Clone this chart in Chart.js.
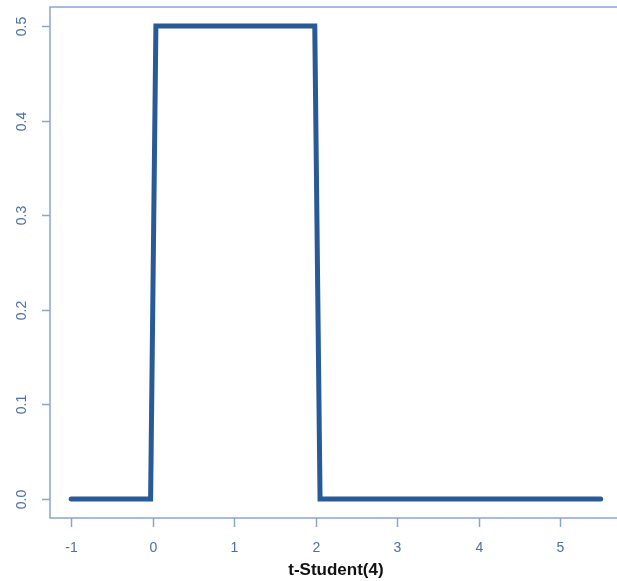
<!DOCTYPE html>
<html>
<head>
<meta charset="utf-8">
<script src="https://cdn.jsdelivr.net/npm/chart.js@4/dist/chart.umd.min.js"></script>
<style>
  html, body { margin: 0; padding: 0; background: #fff; overflow: hidden; }
  #wrap { width: 617px; height: 581px; position: relative; }
</style>
</head>
<body>
<div id="wrap"><canvas id="chart"></canvas></div>
<script>
// corner points of the density curve
var xValues = [-1, -0.025, 0.04, 1.99, 2.055, 5.5];
var yValues = [0, 0, 0.5, 0.5, 0, 0];

var xTicks = [-1, 0, 1, 2, 3, 4, 5];
var yTicks = [0, 0.1, 0.2, 0.3, 0.4, 0.5];
var xTitle = 't-Student(4)';

const LINE_COLOR = '#285a98';
const AXIS_COLOR = '#8aa6cc';
const LABEL_COLOR = '#4a70a6';

var points = xValues.map(function (x, i) { return {x: x, y: yValues[i]}; });

// R style box, ticks and labels, placed with the chart's own scales
var rAxes = {
	id: 'rAxes',
	afterDraw: function (chart) {
		var ctx = chart.ctx;
		var area = chart.chartArea;
		var xs = chart.scales.x;
		var ys = chart.scales.y;
		ctx.save();
		ctx.strokeStyle = AXIS_COLOR;
		ctx.lineWidth = 1.5;
		ctx.beginPath();
		ctx.moveTo(chart.width + 10, area.top);
		ctx.lineTo(area.left, area.top);
		ctx.lineTo(area.left, area.bottom);
		ctx.lineTo(chart.width + 10, area.bottom);
		ctx.stroke();

		ctx.fillStyle = LABEL_COLOR;
		ctx.font = '14px "Liberation Sans", Arial, sans-serif';
		ctx.textAlign = 'center';
		ctx.textBaseline = 'middle';
		xTicks.forEach(function (v) {
			var px = Math.round(xs.getPixelForValue(v)) + 0.5;
			ctx.beginPath();
			ctx.moveTo(px, area.bottom);
			ctx.lineTo(px, area.bottom + 9);
			ctx.stroke();
			ctx.fillText(String(v), px, area.bottom + 30);
		});
		yTicks.forEach(function (v) {
			var py = Math.round(ys.getPixelForValue(v)) + 0.5;
			ctx.beginPath();
			ctx.moveTo(area.left, py);
			ctx.lineTo(area.left - 8, py);
			ctx.stroke();
			ctx.save();
			ctx.translate(22, py);
			ctx.rotate(-Math.PI / 2);
			ctx.fillText(v.toFixed(1), 0, 0);
			ctx.restore();
		});

		ctx.fillStyle = '#111';
		ctx.font = 'bold 17px "Liberation Sans", Arial, sans-serif';
		ctx.fillText(xTitle, (xs.getPixelForValue(-1.26) + xs.getPixelForValue(5.76)) / 2, area.bottom + 52);
		ctx.restore();
	}
};

var config = {
	type: 'line',
	data: {
		datasets: [{
			data: points,
			borderColor: LINE_COLOR,
			borderWidth: 5,
			borderCapStyle: 'round',
			borderJoinStyle: 'miter',
			pointRadius: 0,
			tension: 0,
			fill: false
		}]
	},
	options: {
		responsive: false,
		animation: false,
		layout: {padding: {left: 50, top: 7, right: 0, bottom: 63}},
		plugins: {legend: {display: false}, tooltip: {enabled: false}},
		scales: {
			x: {type: 'linear', min: -1.26, max: 5.70, display: false},
			y: {type: 'linear', min: -0.02, max: 0.52, display: false}
		}
	},
	plugins: [rAxes]
};

var canvas = document.getElementById('chart');
canvas.width = 617;
canvas.height = 581;
window.mainChart = new Chart(canvas.getContext('2d'), config);
</script>
</body>
</html>
